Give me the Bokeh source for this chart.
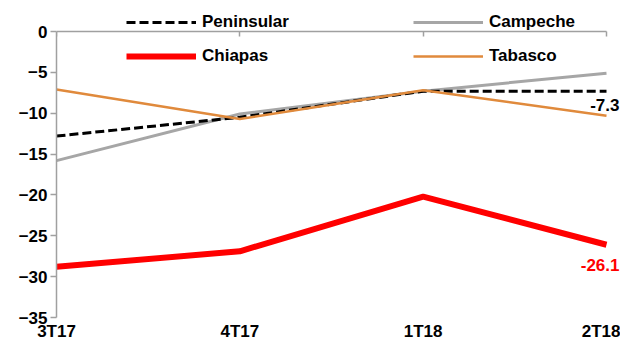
from bokeh.plotting import figure
from bokeh.models import (Range1d, FixedTicker, LinearAxis, Legend, LegendItem, Label)
from bokeh.embed import file_html
from bokeh.resources import INLINE

categories = ["3T17", "4T17", "1T18", "2T18"]
peninsular = [-12.8, -10.5, -7.3, -7.3]
campeche = [-15.8, -10.1, -7.3, -5.1]
chiapas = [-28.8, -26.9, -20.2, -26.1]
tabasco = [-7.1, -10.7, -7.2, -10.3]
y_ticks = [0, -5, -10, -15, -20, -25, -30, -35]
y_min, y_max = -35, 0

FONT = "Liberation Sans"
FS = "17px"
AXIS_GRAY = "#A0A0A0"

xs = list(range(len(categories)))

# layout in pixels
W, H = 620, 344
LEFT, BOTTOM = 56, 27
frame_w = W - LEFT           # frame runs to the right edge so end labels are not clipped
frame_h = H - BOTTOM         # frame runs to the top edge so the legend is not clipped
plot_w = 550                 # pixels between first and last category
plot_top = 31                # pixel row of y = 0
x_end = (len(xs) - 1) * frame_w / plot_w
y_end = (y_max - y_min) * plot_top / (frame_h - plot_top)

p = figure(width=W, height=H, output_backend="svg", toolbar_location=None,
           x_range=Range1d(0, x_end), y_range=Range1d(y_min, y_end),
           x_axis_location=None, y_axis_location=None)
p.min_border_left = LEFT
p.min_border_right = 0
p.min_border_top = 0
p.min_border_bottom = BOTTOM
p.outline_line_color = None
p.grid.visible = False
p.background_fill_color = "white"
p.border_fill_color = "white"

# y axis (left)
yax = LinearAxis(ticker=FixedTicker(ticks=y_ticks), bounds=(y_min, y_max))
yax.axis_line_color = AXIS_GRAY
yax.axis_line_width = 1.5
yax.major_tick_line_color = AXIS_GRAY
yax.major_tick_line_width = 1.5
yax.major_tick_out = 6
yax.major_tick_in = 0
yax.minor_tick_line_color = None
yax.major_label_standoff = 3
yax.major_label_text_font = FONT
yax.major_label_text_font_style = "bold"
yax.major_label_text_font_size = FS
yax.major_label_text_color = "black"
p.add_layout(yax, "left")

# category axis line at y = 0, ticks pointing down into the plot
tax = LinearAxis(ticker=FixedTicker(ticks=xs), fixed_location=0,
                 bounds=(0, len(xs) - 1),
                 major_label_overrides={i: "" for i in xs})
tax.axis_line_color = AXIS_GRAY
tax.axis_line_width = 1.5
tax.major_tick_line_color = AXIS_GRAY
tax.major_tick_line_width = 1.5
tax.major_tick_in = 5
tax.major_tick_out = 0
tax.minor_tick_line_color = None
tax.major_label_standoff = 0
p.add_layout(tax, "above")

# category labels at bottom
bax = LinearAxis(ticker=FixedTicker(ticks=xs),
                 major_label_overrides={i: c for i, c in enumerate(categories)})
bax.axis_line_color = None
bax.major_tick_line_color = None
bax.major_tick_out = 0
bax.major_tick_in = 0
bax.minor_tick_line_color = None
bax.major_label_standoff = 4
bax.major_label_text_font = FONT
bax.major_label_text_font_style = "bold"
bax.major_label_text_font_size = FS
bax.major_label_text_color = "black"
p.add_layout(bax, "below")

r_camp = p.line(xs, campeche, line_color="#A6A6A6", line_width=3)
r_pen = p.line(xs, peninsular, line_color="black", line_width=3, line_dash="9 4")
r_chi = p.line(xs, chiapas, line_color="#FF0000", line_width=6)
r_tab = p.line(xs, tabasco, line_color="#E08A3C", line_width=2.5)

# end labels
p.add_layout(Label(x=xs[-1], y=peninsular[-1], text=f"{peninsular[-1]:.1f}",
                   text_font=FONT, text_font_style="bold", text_font_size=FS,
                   text_color="black", text_align="right", text_baseline="middle",
                   x_offset=13, y_offset=-14))
p.add_layout(Label(x=xs[-1], y=chiapas[-1], text=f"{chiapas[-1]:.1f}",
                   text_font=FONT, text_font_style="bold", text_font_size=FS,
                   text_color="#FF0000", text_align="right", text_baseline="middle",
                   x_offset=13, y_offset=-20))

legend = Legend(items=[
    LegendItem(label="Peninsular", renderers=[r_pen]),
    LegendItem(label="Chiapas", renderers=[r_chi]),
    LegendItem(label="Campeche", renderers=[r_camp]),
    LegendItem(label="Tabasco", renderers=[r_tab]),
], location=(70, 251), orientation="vertical", ncols=2)
legend.border_line_color = None
legend.background_fill_alpha = 0
legend.padding = 0
legend.margin = 0
legend.spacing = 14
legend.glyph_width = 70
legend.glyph_height = 20
legend.label_height = 20
legend.label_width = 197
legend.label_standoff = 6
legend.label_text_font = FONT
legend.label_text_font_style = "bold"
legend.label_text_font_size = FS
legend.label_text_color = "black"
legend.label_text_baseline = "middle"
p.add_layout(legend, "center")

open("out.html", "w").write(file_html(p, INLINE))
